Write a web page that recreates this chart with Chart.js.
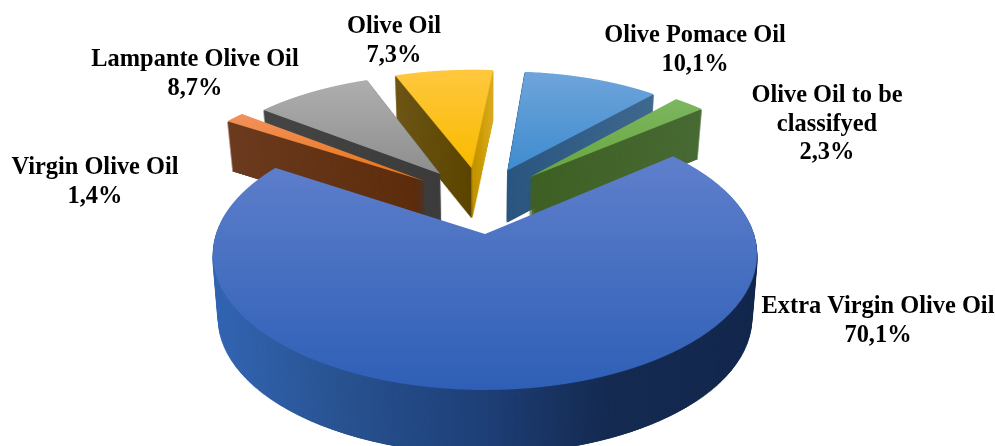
<!DOCTYPE html>
<html>
<head>
<meta charset="utf-8">
<title>Olive oil categories</title>
<style>
  html, body { margin: 0; padding: 0; background: #fff; }
  canvas { display: block; }
</style>
<script src="https://cdn.jsdelivr.net/npm/chart.js@4/dist/chart.umd.min.js"></script>
</head>
<body>
<canvas id="chart" width="995" height="446"></canvas>
<script>
// data, clockwise from the big slice
const categories = ['Extra Virgin Olive Oil', 'Virgin Olive Oil', 'Lampante Olive Oil', 'Olive Oil', 'Olive Pomace Oil', 'Olive Oil to be classifyed'];
const shares = [70.1, 1.4, 8.7, 7.3, 10.1, 2.3];
const labelLines = [['Extra Virgin Olive Oil'], ['Virgin Olive Oil'], ['Lampante Olive Oil'], ['Olive Oil'], ['Olive Pomace Oil'], ['Olive Oil to be', 'classifyed']];
const labelCentres = [[878, 313], [95, 174], [195, 66], [394, 33], [695, 42], [827, 102]];
const sliceColors = ['#4472c4', '#ed7d31', '#a5a5a5', '#ffc000', '#5b9bd5', '#70ad47'];

// 3D look: back to front order, plus per slice faces
const drawOrder = [4, 5, 3, 2, 1, 0];
const sliceScale = [1, 1.02, 0.985, 0.985, 0.985, 0.995];
const sliceDepth = [64, 50, 48, 50, 52, 50];
const topFaces = [
  [165, 390, '#5d7ecb', '#2e5fb6'],
  [117, 180, '#f0915a', '#ec7410'],
  [81, 173, '#aeaeae', '#8e8e8e'],
  [71, 167, '#ffc73d', '#f9bb00'],
  [73, 169, '#6ea4da', '#3f8ccf'],
  [101, 177, '#7cb65e', '#68a63e']
];
const wallFaces = [
  [211, 759, [[0, '#3466b4'], [0.25, '#28528f'], [0.5, '#1e3f77'], [0.72, '#152b52'], [1, '#14284e']]],
  [228, 422, [[0, '#6c3b1f'], [1, '#5c2c0c']]],
  [259, 438, [[0, '#464646'], [1, '#3c3c3c']]],
  [393, 492, [[0, '#6e5718'], [0.79, '#5c4500'], [0.795, '#c39500'], [1, '#d9ab1e']]],
  [508, 655, [[0, '#2a5680'], [1, '#40698f']]],
  [530, 702, [[0, '#3f6024'], [1, '#486a34']]]
];

const PIE_RADIUS = 269;
const EXPLODE = 0.27 * PIE_RADIUS;
const TILT = 132.6 / 269;  // vertical squash
const PERSPECTIVE = 0.15;  // back of the pie is further away
const TAPER = 0.02;        // walls get narrower going down

function makeCanvas(w, h) {
  const c = document.createElement('canvas');
  c.width = w;
  c.height = h;
  return c;
}

function midAngle(arc) {
  return (arc.startAngle + arc.endAngle) / 2;
}

// draws one arc top-down on a scratch canvas and bends it row by row into perspective
function projectArc(arc, chart, apex) {
  const W = chart.width, H = chart.height;
  const S = 2, SS = 2, half = 380;
  const src = makeCanvas(half * 2 * S, half * 2 * S);
  const srcCtx = src.getContext('2d');
  const mid = midAngle(arc);
  srcCtx.setTransform(S, 0, 0, S,
    S * (half - arc.x + Math.cos(mid) * EXPLODE),
    S * (half - arc.y + Math.sin(mid) * EXPLODE));
  arc.draw(srcCtx);

  const ox = half + apex.x, oy = half + apex.y;
  const cx = arc.x, cy = arc.y;
  const big = makeCanvas(W * SS, H * SS);
  const bigCtx = big.getContext('2d');
  bigCtx.imageSmoothingQuality = 'high';
  const c = TILT * PIE_RADIUS;

  const toV = (yy) => {
    const rel = yy - cy;
    return rel / (c + PERSPECTIVE * rel);
  };
  for (let row = 0; row < H * SS; row++) {
    const v0 = toV(row / SS), v1 = toV((row + 1) / SS);
    const vm = (v0 + v1) / 2;
    const g = 1 / (1 - PERSPECTIVE * vm);
    const sy0 = (oy + v0 * PIE_RADIUS) * S;
    const sy1 = (oy + v1 * PIE_RADIUS) * S;
    if (sy1 <= 0 || sy0 >= src.height) continue;
    bigCtx.drawImage(src, 0, sy0, src.width, sy1 - sy0, (cx - ox * g) * SS, row, half * 2 * g * SS, 1);
  }

  const out = makeCanvas(W, H);
  const outCtx = out.getContext('2d');
  outCtx.imageSmoothingQuality = 'high';
  outCtx.drawImage(big, 0, 0, W, H);
  return out;
}

// passes > 1 hardens the soft edge, thin slivers would fade out when stacked otherwise
function tinted(shape, gradientFor, passes) {
  const c = makeCanvas(shape.width, shape.height);
  const cc = c.getContext('2d');
  for (let p = 0; p < passes; p++) cc.drawImage(shape, 0, 0);
  cc.globalCompositeOperation = 'source-atop';
  cc.fillStyle = gradientFor(cc);
  cc.fillRect(0, 0, c.width, c.height);
  return c;
}

const pie3d = {
  id: 'pie3d',
  beforeDatasetsDraw(chart) {
    const ctx = chart.ctx;
    const arcs = chart.getDatasetMeta(0).data;
    const mainMid = midAngle(arcs[0]);
    const apex = { x: Math.cos(mainMid) * EXPLODE, y: Math.sin(mainMid) * EXPLODE };

    drawOrder.forEach((i) => {
      const arc = arcs[i];
      arc.outerRadius = PIE_RADIUS * sliceScale[i];

      const shape = projectArc(arc, chart, apex);
      const wall = wallFaces[i];
      const wallLayer = tinted(shape, (cc) => {
        const g = cc.createLinearGradient(wall[0], 0, wall[1], 0);
        wall[2].forEach((s) => g.addColorStop(s[0], s[1]));
        return g;
      }, 4);
      const top = topFaces[i];
      const topLayer = tinted(shape, (cc) => {
        const g = cc.createLinearGradient(0, top[0], 0, top[1]);
        g.addColorStop(0, top[2]);
        g.addColorStop(1, top[3]);
        return g;
      }, 1);

      const depth = sliceDepth[i];
      for (let d = depth; d >= 1; d--) {
        const s = 1 - TAPER * d / depth;
        ctx.drawImage(wallLayer, arc.x - arc.x * s, d, chart.width * s, chart.height);
      }
      ctx.drawImage(topLayer, 0, 0);
    });
    return false;
  },
  afterDraw(chart) {
    const ctx = chart.ctx;
    ctx.save();
    ctx.fillStyle = '#000';
    ctx.font = 'bold 24.4px "Liberation Serif"';
    ctx.textAlign = 'center';
    ctx.textBaseline = 'alphabetic';
    categories.forEach((name, i) => {
      const lines = labelLines[i].concat(shares[i].toFixed(1).replace('.', ',') + '%');
      lines.forEach((line, n) => {
        ctx.fillText(line, labelCentres[i][0], labelCentres[i][1] + n * 28.5);
      });
    });
    ctx.restore();
  }
};

new Chart(document.getElementById('chart'), {
  type: 'pie',
  data: {
    labels: categories,
    datasets: [{
      data: shares,
      backgroundColor: sliceColors,
      borderWidth: 0,
      hoverOffset: 0
    }]
  },
  options: {
    responsive: false,
    animation: false,
    rotation: 50,
    radius: PIE_RADIUS,
    // puts the chart centre where the tip of the big slice goes
    layout: { padding: { right: 25, top: 22 } },
    events: [],
    plugins: {
      legend: { display: false },
      title: { display: false },
      tooltip: { enabled: false }
    }
  },
  plugins: [pie3d]
});
</script>
</body>
</html>
